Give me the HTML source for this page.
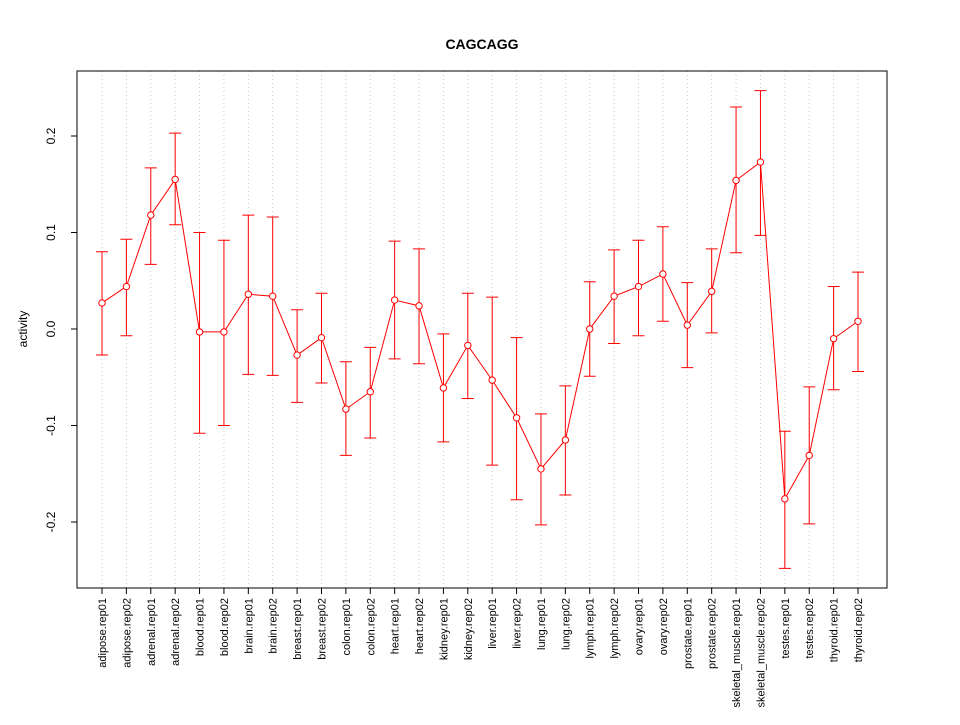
<!DOCTYPE html>
<html><head><meta charset="utf-8"><style>
body{margin:0;background:#fff;}
svg text{font-family:"Liberation Sans",sans-serif;}
</style></head><body>
<svg id="chart" width="960" height="720" xmlns="http://www.w3.org/2000/svg">
<rect width="960" height="720" fill="#fff"/>
<text x="482" y="49" text-anchor="middle" font-size="14" font-weight="bold">CAGCAGG</text>
<text transform="translate(27,329) rotate(-90)" text-anchor="middle" font-size="12">activity</text>
<g id="grid"></g><g id="yaxis"></g><g id="xaxis"></g><g id="series"></g>
<rect x="77" y="71" width="810" height="517" fill="none" stroke="#000"/>
</svg>
<script>
const categories=["adipose.rep01","adipose.rep02","adrenal.rep01","adrenal.rep02","blood.rep01","blood.rep02","brain.rep01","brain.rep02","breast.rep01","breast.rep02","colon.rep01","colon.rep02","heart.rep01","heart.rep02","kidney.rep01","kidney.rep02","liver.rep01","liver.rep02","lung.rep01","lung.rep02","lymph.rep01","lymph.rep02","ovary.rep01","ovary.rep02","prostate.rep01","prostate.rep02","skeletal_muscle.rep01","skeletal_muscle.rep02","testes.rep01","testes.rep02","thyroid.rep01","thyroid.rep02"];
const values=[0.027,0.044,0.118,0.155,-0.003,-0.003,0.036,0.034,-0.027,-0.009,-0.083,-0.065,0.030,0.024,-0.061,-0.017,-0.053,-0.092,-0.145,-0.115,0.000,0.034,0.044,0.057,0.004,0.039,0.154,0.173,-0.176,-0.131,-0.010,0.008];
const upper=[0.080,0.093,0.167,0.203,0.100,0.092,0.118,0.116,0.020,0.037,-0.034,-0.019,0.091,0.083,-0.005,0.037,0.033,-0.009,-0.088,-0.059,0.049,0.082,0.092,0.106,0.048,0.083,0.230,0.247,-0.106,-0.060,0.044,0.059];
const lower=[-0.027,-0.007,0.067,0.108,-0.108,-0.100,-0.047,-0.048,-0.076,-0.056,-0.131,-0.113,-0.031,-0.036,-0.117,-0.072,-0.141,-0.177,-0.203,-0.172,-0.049,-0.015,-0.007,0.008,-0.040,-0.004,0.079,0.097,-0.248,-0.202,-0.063,-0.044];
const yTicks=[-0.2,-0.1,0.0,0.1,0.2];
const yTickLabels=["-0.2","-0.1","0.0","0.1","0.2"];
const NS="http://www.w3.org/2000/svg";
function xs(i){return 102+i*(858-102)/(categories.length-1);}
function ys(v){return 329-v*965;}
function mk(tag,attrs,parent){const e=document.createElementNS(NS,tag);for(const k in attrs)e.setAttribute(k,attrs[k]);document.getElementById(parent).appendChild(e);return e;}
yTicks.forEach((t,i)=>{
  let l=mk('line',{x1:71,x2:77,y1:ys(t),y2:ys(t),stroke:'#000'},'yaxis');
  
  
  let tx=mk('text',{transform:`translate(55,${ys(t)}) rotate(-90)`,'text-anchor':'middle','font-size':12},'yaxis');
  tx.textContent=yTickLabels[i];
  
  
});
categories.forEach((c,i)=>{
  const x=xs(i);
  let g=mk('line',{x1:x,x2:x,y1:71,y2:588,stroke:'#c8c8c8','stroke-dasharray':'1,3'},'grid');
  
  
  let t=mk('line',{x1:x,x2:x,y1:588,y2:594,stroke:'#000'},'xaxis');
  
  
  let tx=mk('text',{transform:`translate(${x+4},598) rotate(-90)`,'text-anchor':'end','font-size':11},'xaxis');
  tx.textContent=c;
  
  
});
let pts=values.map((v,i)=>xs(i)+','+ys(v)).join(' ');
let pl=mk('polyline',{points:pts,fill:'none',stroke:'#ff0000','stroke-width':1},'series');


values.forEach((v,i)=>{
  const x=xs(i);
  let e=mk('path',{d:`M${x},${ys(upper[i])}V${ys(lower[i])}M${x-6},${ys(upper[i])}H${x+6}M${x-6},${ys(lower[i])}H${x+6}`,stroke:'#ff0000',fill:'none'},'series');
  
  
  let p=mk('circle',{cx:x,cy:ys(v),r:3.2,fill:'#fff',stroke:'#ff0000'},'series');
  
  
});
</script>
</body></html>
